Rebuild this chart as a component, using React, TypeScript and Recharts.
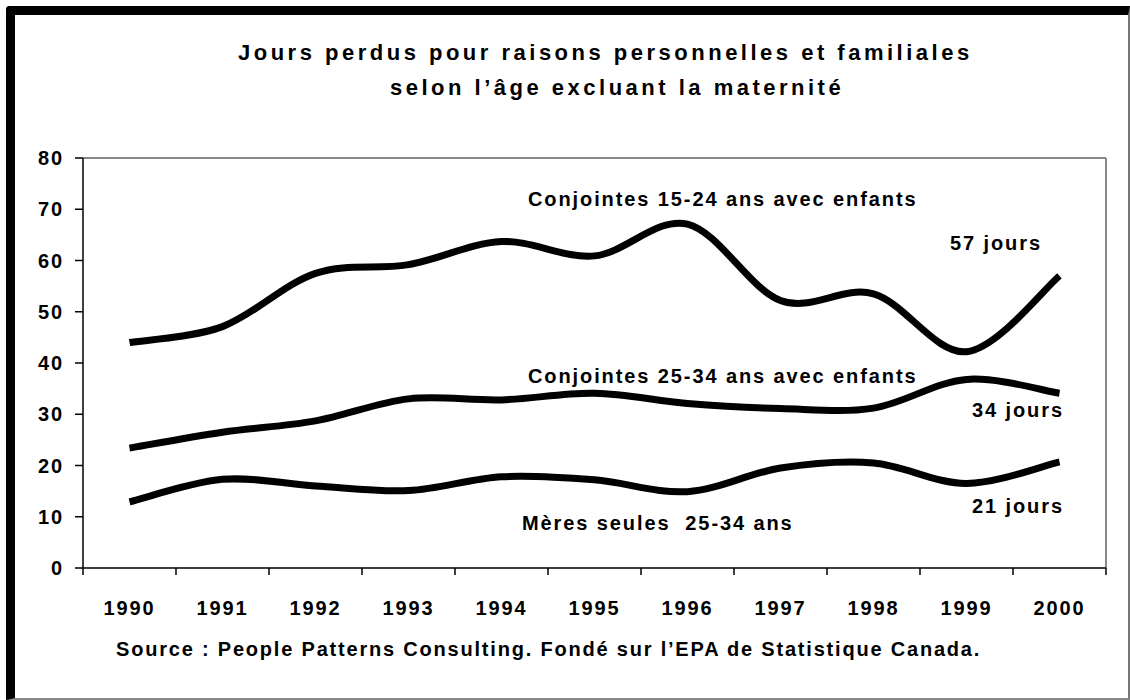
import React from 'react';
import { LineChart, Line, XAxis, YAxis, ReferenceLine } from 'recharts';

document.body.style.margin = '0';

const years = [1990, 1991, 1992, 1993, 1994, 1995, 1996, 1997, 1998, 1999, 2000];
const conjointes1524 = [44.0, 47.1, 57.5, 59.2, 63.7, 60.9, 67.1, 52.2, 53.5, 42.2, 57.0];
const conjointes2534 = [23.4, 26.5, 28.7, 33.0, 32.8, 34.1, 32.1, 31.1, 31.2, 36.8, 34.1];
const meresSeules = [12.9, 17.3, 16.0, 15.1, 17.8, 17.2, 14.9, 19.5, 20.5, 16.5, 20.7];
const yTicks = [0, 10, 20, 30, 40, 50, 60, 70, 80];
// tick marks sit between the years
const yearBounds = [...years.map(y => y - 0.5), 2000.5];

const data = years.map((year, i) => ({
  year,
  c1524: conjointes1524[i],
  c2534: conjointes2534[i],
  meres: meresSeules[i],
}));

const FONT = '"Liberation Sans", Arial, sans-serif';

// Excel-like smoothing (Catmull-Rom through the points)
function smooth(context: any) {
  let pts: number[][] = [];
  return {
    areaStart() {},
    areaEnd() {},
    lineStart() {
      pts = [];
    },
    lineEnd() {
      if (!pts.length) return;
      context.moveTo(pts[0][0], pts[0][1]);
      for (let i = 0; i < pts.length - 1; i++) {
        const p0 = pts[i - 1] || pts[i];
        const p1 = pts[i];
        const p2 = pts[i + 1];
        const p3 = pts[i + 2] || p2;
        context.bezierCurveTo(
          p1[0] + (p2[0] - p0[0]) / 6,
          p1[1] + (p2[1] - p0[1]) / 6,
          p2[0] - (p3[0] - p1[0]) / 6,
          p2[1] - (p3[1] - p1[1]) / 6,
          p2[0],
          p2[1],
        );
      }
    },
    point(x: number, y: number) {
      pts.push([+x, +y]);
    },
  };
}

const txt = { fontFamily: FONT, fontWeight: 700, fontSize: 20, letterSpacing: 1.9, fill: '#000' } as const;
const titleTxt = { ...txt, fontSize: 22, letterSpacing: 3.5 };

export default function App() {
  return (
    <div style={{ position: 'relative', width: 1130, height: 700, background: '#fff' }}>
      <div
        style={{
          position: 'absolute',
          left: 6,
          top: 6,
          width: 1124,
          height: 694,
          boxSizing: 'border-box',
          borderTop: '9px solid #000',
          borderLeft: '9px solid #000',
          borderRight: '2px solid #777',
          borderBottom: '2px solid #888',
          borderTopLeftRadius: 4,
        }}
      />
      <div style={{ position: 'absolute', left: 0, top: 0 }}>
        <LineChart width={1130} height={700} data={data} margin={{ top: 158, right: 24, bottom: 130, left: 0 }}>
          <XAxis
            xAxisId="grid"
            dataKey="year"
            type="number"
            domain={[1989.5, 2000.5]}
            ticks={yearBounds}
            tick={() => <g />}
            height={1}
            tickSize={7}
            stroke="#000"
            strokeWidth={1.5}
            interval={0}
            allowDataOverflow
          />
          <XAxis
            xAxisId="lab"
            dataKey="year"
            type="number"
            domain={[1989.5, 2000.5]}
            ticks={years}
            height={1}
            axisLine={false}
            tickLine={false}
            tickSize={0}
            tickMargin={32}
            tick={txt}
            interval={0}
            allowDataOverflow
          />
          <YAxis
            domain={[0, 80]}
            ticks={yTicks}
            width={83}
            tickSize={8}
            tickMargin={11}
            stroke="#000"
            strokeWidth={1.5}
            interval={0}
            tick={txt}
          />
          <ReferenceLine y={80} xAxisId="grid" stroke="#888" strokeWidth={2} />
          <ReferenceLine x={2000.5} xAxisId="grid" stroke="#888" strokeWidth={2} />
          <Line xAxisId="grid" dataKey="c1524" type={smooth as any} stroke="#000" strokeWidth={7} dot={false} isAnimationActive={false} />
          <Line xAxisId="grid" dataKey="c2534" type={smooth as any} stroke="#000" strokeWidth={7} dot={false} isAnimationActive={false} />
          <Line xAxisId="grid" dataKey="meres" type={smooth as any} stroke="#000" strokeWidth={7} dot={false} isAnimationActive={false} />

          <text x={238} y={60} style={titleTxt}>
            Jours perdus pour raisons personnelles et familiales
          </text>
          <text x={390} y={95} style={titleTxt}>
            selon l’âge excluant la maternité
          </text>
          <text x={528} y={206} style={txt}>Conjointes 15-24 ans avec enfants</text>
          <text x={528} y={383} style={txt}>Conjointes 25-34 ans avec enfants</text>
          <text x={522} y={530} style={{ ...txt, whiteSpace: 'pre' }}>Mères seules  25-34 ans</text>
          <text x={950} y={250} style={txt}>57 jours</text>
          <text x={972} y={417} style={txt}>34 jours</text>
          <text x={972} y={513} style={txt}>21 jours</text>
          <text x={116} y={656} style={{ ...txt, letterSpacing: 1.8 }}>
            Source : People Patterns Consulting. Fondé sur l’EPA de Statistique Canada.
          </text>
        </LineChart>
      </div>
    </div>
  );
}
